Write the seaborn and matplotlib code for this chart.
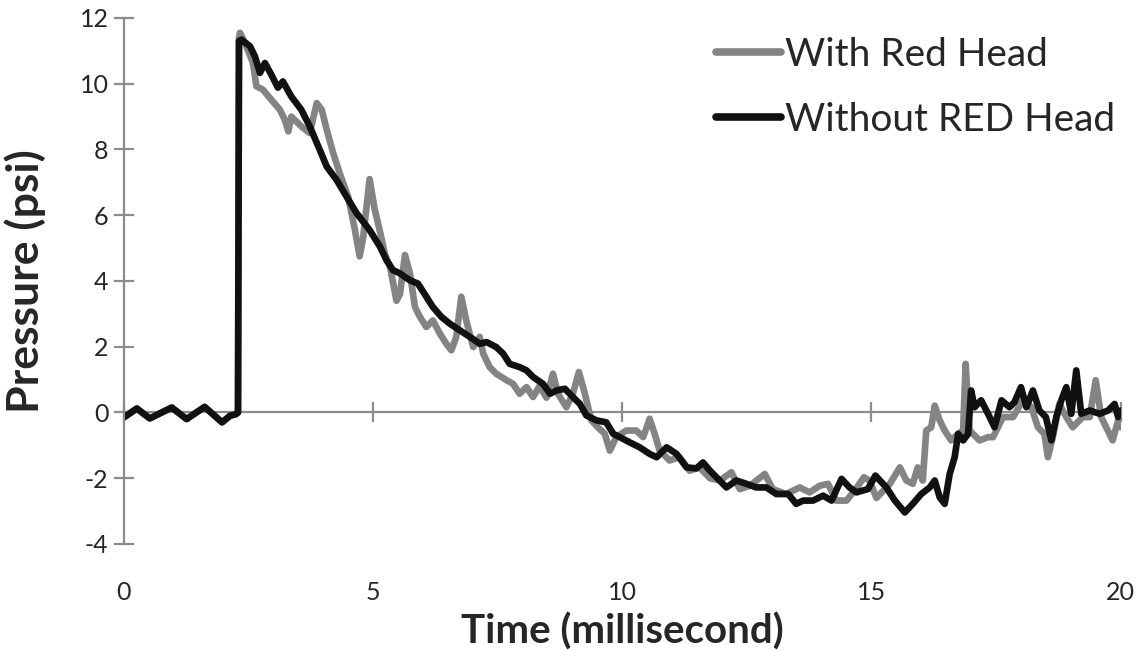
import matplotlib.pyplot as plt
import pandas as pd
import seaborn as sns

with_t = [0.0, 0.26, 0.52, 0.96, 1.26, 1.62, 1.97, 2.13, 2.25, 2.29, 2.31, 2.33, 2.43, 2.59, 2.66,
          2.79, 2.96, 3.13, 3.23, 3.30, 3.36, 3.56, 3.73, 3.87, 3.97, 4.07, 4.20, 4.33, 4.50, 4.63,
          4.73, 4.80, 4.93, 5.03, 5.14, 5.24, 5.34, 5.47, 5.54, 5.64, 5.74, 5.84, 5.94, 6.07, 6.20,
          6.34, 6.47, 6.57, 6.67, 6.77, 6.87, 7.01, 7.14, 7.21, 7.34, 7.47, 7.68, 7.81, 7.94, 8.08,
          8.21, 8.34, 8.48, 8.61, 8.71, 8.88, 9.01, 9.13, 9.25, 9.38, 9.51, 9.65, 9.75, 9.88, 10.08,
          10.28, 10.42, 10.55, 10.65, 10.75, 10.95, 11.15, 11.35, 11.55, 11.76, 11.96, 12.19, 12.36,
          12.56, 12.86, 13.02, 13.29, 13.56, 13.76, 13.96, 14.13, 14.29, 14.50, 14.70, 14.85, 14.96,
          15.10, 15.37, 15.57, 15.70, 15.83, 15.93, 16.03, 16.10, 16.20, 16.27, 16.37, 16.47, 16.60,
          16.74, 16.84, 16.89, 16.97, 17.17, 17.34, 17.44, 17.64, 17.84, 18.04, 18.21, 18.34, 18.47,
          18.54, 18.64, 18.77, 18.91, 19.04, 19.24, 19.38, 19.50, 19.61, 19.71, 19.84, 19.95, 20.0]
with_p = [-0.15, 0.12, -0.18, 0.15, -0.20, 0.17, -0.30, -0.10, -0.05, 0.0, 11.40, 11.55, 11.24, 10.63, 9.92,
          9.82, 9.51, 9.21, 8.90, 8.55, 9.00, 8.70, 8.50, 9.41, 9.21, 8.60, 7.89, 7.28, 6.56, 5.60,
          4.75, 5.30, 7.10, 6.20, 5.50, 4.80, 4.43, 3.40, 3.60, 4.79, 4.23, 3.21, 2.91, 2.60, 2.80,
          2.40, 2.09, 1.89, 2.30, 3.52, 2.80, 1.99, 2.30, 1.79, 1.38, 1.18, 0.98, 0.87, 0.57, 0.77,
          0.47, 0.80, 0.45, 1.18, 0.57, 0.16, 0.57, 1.23, 0.57, -0.24, -0.45, -0.65, -1.16, -0.75, -0.55,
          -0.55, -0.75, -0.19, -0.65, -1.16, -1.46, -1.36, -1.77, -1.67, -2.00, -2.07, -1.82, -2.33,
          -2.23, -1.87, -2.33, -2.48, -2.28, -2.43, -2.23, -2.17, -2.68, -2.68, -2.30, -1.97, -2.07,
          -2.60, -2.17, -1.67, -2.07, -2.17, -1.67, -2.07, -0.55, -0.45, 0.21, -0.24, -0.55, -0.85,
          -0.65, -0.55, 1.48, -0.55, -0.85, -0.75, -0.75, -0.14, -0.14, 0.37, 0.16, -0.45, -0.65,
          -1.36, -0.75, 0.26, -0.14, -0.45, -0.14, -0.14, 0.98, -0.14, -0.45, -0.85, -0.24, -0.45]

without_t = [0.0, 0.26, 0.52, 0.96, 1.26, 1.62, 1.97, 2.13, 2.25, 2.29, 2.31, 2.36, 2.53, 2.63, 2.73,
             2.83, 2.96, 3.09, 3.19, 3.36, 3.56, 3.73, 3.93, 4.07, 4.27, 4.47, 4.67, 4.83, 4.93, 5.14,
             5.27, 5.40, 5.54, 5.74, 5.90, 6.07, 6.20, 6.37, 6.54, 6.74, 6.94, 7.14, 7.28, 7.47, 7.61,
             7.74, 7.94, 8.08, 8.21, 8.41, 8.55, 8.68, 8.85, 9.01, 9.15, 9.28, 9.48, 9.68, 9.82, 9.95,
             10.15, 10.35, 10.55, 10.69, 10.89, 11.09, 11.29, 11.49, 11.62, 11.76, 11.89, 12.09, 12.29,
             12.49, 12.69, 12.89, 13.09, 13.33, 13.49, 13.63, 13.83, 14.03, 14.20, 14.40, 14.56, 14.70,
             14.93, 15.08, 15.30, 15.47, 15.67, 15.83, 16.00, 16.17, 16.27, 16.37, 16.47, 16.57, 16.67,
             16.74, 16.84, 16.94, 17.00, 17.07, 17.20, 17.34, 17.47, 17.61, 17.77, 17.87, 18.00, 18.11,
             18.24, 18.37, 18.50, 18.61, 18.71, 18.81, 18.91, 19.01, 19.11, 19.21, 19.38, 19.58, 19.75,
             19.88, 19.95, 20.0]
without_p = [-0.15, 0.12, -0.18, 0.15, -0.20, 0.17, -0.30, -0.10, -0.05, 0.0, 11.30, 11.34, 11.14, 10.83, 10.33,
             10.63, 10.27, 9.88, 10.07, 9.61, 9.21, 8.70, 7.99, 7.48, 7.07, 6.56, 6.06, 5.75, 5.55, 5.04,
             4.63, 4.33, 4.23, 4.02, 3.92, 3.52, 3.21, 2.91, 2.70, 2.50, 2.30, 2.09, 2.14, 1.99, 1.79,
             1.48, 1.38, 1.28, 1.08, 0.87, 0.57, 0.67, 0.72, 0.47, 0.26, -0.09, -0.24, -0.30, -0.65, -0.75,
             -0.91, -1.06, -1.26, -1.36, -1.06, -1.26, -1.67, -1.70, -1.52, -1.77, -1.97, -2.28, -2.07,
             -2.17, -2.28, -2.28, -2.48, -2.48, -2.78, -2.68, -2.68, -2.53, -2.68, -2.02, -2.28, -2.43,
             -2.33, -1.92, -2.28, -2.68, -3.04, -2.78, -2.48, -2.28, -2.07, -2.58, -2.78, -1.87, -1.36,
             -0.65, -0.85, -0.65, 0.67, 0.16, 0.37, -0.04, -0.45, 0.37, 0.16, 0.31, 0.77, 0.16,
             0.67, 0.06, -0.14, -0.85, -0.14, 0.37, 0.77, -0.04, 1.28, -0.04, 0.06, -0.04, 0.06,
             0.26, -0.14, 0.06]

series_names = ["With Red Head", "Without RED Head"]
series_colors = ["#848484", "#111111"]
x_ticks = [0, 5, 10, 15, 20]
y_ticks = [-4, -2, 0, 2, 4, 6, 8, 10, 12]

axis_gray = "#8c8c8c"

sns.set_style("white")
plt.rcParams["font.family"] = ["Lato", "DejaVu Sans"]
plt.rcParams["axes.unicode_minus"] = False

fig = plt.figure(figsize=(11.47, 6.51), dpi=100)
ax = fig.add_axes([0.108, 0.1644, 0.869, 0.808])

for name, t, p, c in [(series_names[0], with_t, with_p, series_colors[0]),
                      (series_names[1], without_t, without_p, series_colors[1])]:
    df = pd.DataFrame({"Time": t, "Pressure": p})
    sns.lineplot(data=df, x="Time", y="Pressure", ax=ax, color=c, linewidth=4.8,
                 estimator=None, sort=False, label=name,
                 solid_joinstyle="round", solid_capstyle="round")

ax.set_xlim(0, 20)
ax.set_ylim(-4, 12)
ax.set_yticks(y_ticks)
ax.set_xticks(x_ticks)

for s in ["top", "right"]:
    ax.spines[s].set_visible(False)
ax.spines["left"].set_color(axis_gray)
ax.spines["left"].set_linewidth(1.6)
ax.spines["bottom"].set_position(("data", 0))
ax.spines["bottom"].set_color(axis_gray)
ax.spines["bottom"].set_linewidth(1.6)
ax.spines["bottom"].set_zorder(0)

ax.tick_params(axis="y", left=True, direction="inout", length=14, width=1.6, color=axis_gray,
               labelsize=18, pad=4)
ax.tick_params(axis="x", bottom=True, direction="inout", length=14, width=1.6, color=axis_gray,
               labelbottom=False)
ax.set_xlabel("")
ax.set_ylabel("Pressure (psi)", fontsize=32, fontweight="bold")
ax.yaxis.set_label_coords(-0.078, 0.5)

sec = ax.secondary_xaxis("bottom")
sec.set_xticks(x_ticks)
sec.spines["bottom"].set_visible(False)
sec.tick_params(axis="x", length=0, labelsize=18, pad=27)
sec.set_xlabel("Time (millisecond)", fontsize=29, fontweight="bold", labelpad=6)

leg = ax.legend(loc="upper left", bbox_to_anchor=(0.594, 0.964), frameon=False, fontsize=28,
                handlelength=1.67, handletextpad=0.1, labelspacing=0.75, borderpad=0,
                borderaxespad=0)
for line in leg.get_lines():
    line.set_linewidth(5.5)

fig.savefig("out.png", dpi=100)
